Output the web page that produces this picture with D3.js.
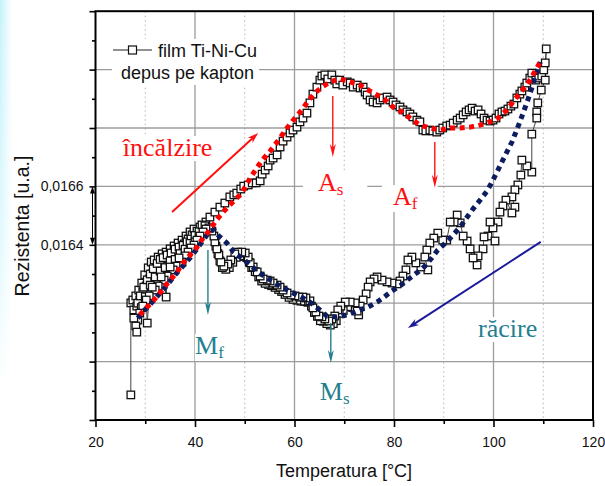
<!DOCTYPE html>
<html><head><meta charset="utf-8">
<script src="https://cdn.jsdelivr.net/npm/d3@7"></script>
<style>body{margin:0;background:#fff;} svg{display:block;}</style>
</head><body><svg id="c" width="605" height="486"></svg>
<script>
// ---------- DATA ----------
const xTicksMajor = [20, 40, 60, 80, 100, 120];
const xTicksMinor = [30, 50, 70, 90, 110];
const yTicksMajor = [0.0158, 0.0160, 0.0162, 0.0164, 0.0166, 0.0168, 0.0170, 0.0172];
const yTicksMinor = [0.0159, 0.0161, 0.0163, 0.0165, 0.0167, 0.0169, 0.0171];
const yTickLabelled = [0.0164, 0.0166];

// measured points [Temperatura °C, Rezistenta u.a.] - heating run
const heatingPoints = [[27.1,0.015886],[27.1,0.016201],[27.5,0.016211],[27.7,0.016177],[28.1,0.016225],[28.3,0.016190],[28.7,0.016245],[28.9,0.016211],[29.3,0.016269],[29.5,0.016238],[29.9,0.016297],[30.2,0.016259],[30.6,0.016321],[30.8,0.016283],[31.2,0.016341],[31.4,0.016300],[31.8,0.016348],[32.2,0.016321],[32.6,0.016358],[33.0,0.016331],[33.4,0.016369],[33.8,0.016341],[34.2,0.016375],[34.6,0.016351],[35.0,0.016386],[35.4,0.016362],[35.8,0.016396],[36.2,0.016375],[36.6,0.016406],[37.0,0.016389],[37.4,0.016416],[37.8,0.016403],[38.2,0.016430],[38.6,0.016420],[39.0,0.016444],[39.4,0.016434],[39.8,0.016454],[40.4,0.016447],[41.0,0.016461],[41.6,0.016458],[42.2,0.016478],[43.0,0.016495],[44.0,0.016512],[45.0,0.016529],[46.0,0.016543],[47.0,0.016564],[47.8,0.016571],[48.4,0.016577],[49.2,0.016591],[49.8,0.016601],[50.7,0.016605],[51.5,0.016612],[52.3,0.016612],[53.1,0.016619],[53.5,0.016642],[54.1,0.016656],[54.7,0.016670],[55.1,0.016690],[55.7,0.016697],[56.5,0.016708],[57.1,0.016735],[57.7,0.016755],[58.5,0.016769],[59.1,0.016783],[59.7,0.016793],[60.5,0.016803],[61.1,0.016821],[61.7,0.016834],[62.5,0.016851],[63.1,0.016886],[63.7,0.016916],[64.5,0.016940],[65.1,0.016964],[65.5,0.016978],[66.1,0.016982],[66.7,0.016968],[67.5,0.016982],[68.1,0.016964],[68.5,0.016951],[69.1,0.016964],[69.7,0.016947],[70.6,0.016958],[71.2,0.016954],[71.8,0.016940],[72.6,0.016947],[73.2,0.016937],[73.8,0.016940],[74.2,0.016923],[74.6,0.016913],[75.2,0.016896],[75.8,0.016889],[76.6,0.016886],[77.2,0.016896],[77.8,0.016903],[78.6,0.016906],[79.2,0.016896],[79.8,0.016889],[80.4,0.016879],[81.2,0.016872],[81.8,0.016862],[82.6,0.016855],[83.2,0.016848],[83.8,0.016838],[84.6,0.016827],[85.2,0.016821],[85.8,0.016793],[86.4,0.016790],[87.2,0.016793],[87.8,0.016790],[88.6,0.016786],[89.2,0.016793],[89.8,0.016800],[90.6,0.016807],[91.3,0.016810],[91.9,0.016817],[92.7,0.016827],[93.3,0.016834],[93.9,0.016845],[94.5,0.016855],[95.1,0.016862],[95.7,0.016868],[96.3,0.016858],[96.9,0.016862],[97.5,0.016848],[98.1,0.016834],[98.7,0.016827],[99.3,0.016824],[99.9,0.016827],[100.5,0.016834],[101.1,0.016848],[101.7,0.016855],[102.3,0.016858],[102.9,0.016865],[103.5,0.016875],[104.1,0.016882],[104.7,0.016903],[105.3,0.016916],[105.7,0.016927],[106.3,0.016940],[106.7,0.016954],[107.3,0.016971],[107.7,0.016988],[108.5,0.016964],[109.1,0.016971],[109.7,0.016978],[110.1,0.016999],[110.4,0.017023],[110.6,0.017071]];

// measured points - cooling run
const coolingPoints = [[110.4,0.016964],[109.6,0.016930],[108.9,0.016886],[108.7,0.016855],[108.7,0.016834],[107.7,0.016779],[107.7,0.016649],[106.7,0.016670],[105.7,0.016690],[105.5,0.016639],[104.9,0.016605],[104.3,0.016588],[103.7,0.016564],[104.3,0.016529],[103.7,0.016509],[102.5,0.016553],[101.9,0.016533],[101.3,0.016512],[100.9,0.016478],[99.9,0.016458],[99.3,0.016478],[98.9,0.016430],[100.3,0.016413],[98.1,0.016427],[97.9,0.016386],[96.9,0.016362],[96.7,0.016331],[95.9,0.016355],[95.3,0.016386],[94.7,0.016413],[93.9,0.016430],[93.3,0.016475],[92.7,0.016502],[92.1,0.016478],[91.3,0.016478],[90.6,0.016416],[89.8,0.016416],[88.8,0.016440],[88.0,0.016423],[87.2,0.016406],[86.6,0.016382],[86.2,0.016358],[86.8,0.016314],[85.4,0.016324],[84.4,0.016338],[83.6,0.016358],[82.8,0.016348],[82.4,0.016314],[81.8,0.016293],[81.2,0.016276],[80.6,0.016266],[79.6,0.016269],[78.6,0.016273],[77.6,0.016279],[76.6,0.016290],[76.0,0.016283],[75.2,0.016273],[74.8,0.016255],[74.4,0.016232],[73.8,0.016211],[73.2,0.016190],[72.6,0.016173],[72.2,0.016201],[71.2,0.016204],[70.2,0.016204],[69.3,0.016190],[68.7,0.016177],[68.1,0.016156],[67.5,0.016146],[66.9,0.016139],[66.1,0.016146],[65.5,0.016153],[64.9,0.016156],[64.3,0.016170],[63.7,0.016184],[63.1,0.016208],[62.3,0.016218],[61.7,0.016221],[60.9,0.016221],[60.1,0.016225],[59.3,0.016228],[58.5,0.016235],[57.7,0.016245],[57.1,0.016255],[56.5,0.016262],[55.7,0.016269],[55.1,0.016276],[54.5,0.016279],[53.7,0.016283],[53.1,0.016293],[52.5,0.016307],[51.7,0.016324],[51.1,0.016338],[50.7,0.016358],[50.1,0.016372],[49.4,0.016375],[48.6,0.016375],[48.0,0.016369],[47.2,0.016348],[46.6,0.016334],[45.8,0.016327],[45.2,0.016341],[44.8,0.016365],[44.4,0.016386],[44.0,0.016410],[43.8,0.016430],[43.4,0.016447],[42.8,0.016458],[42.2,0.016454],[41.6,0.016444],[41.0,0.016430],[40.4,0.016416],[39.8,0.016399],[39.2,0.016389],[38.6,0.016375],[38.0,0.016362],[37.4,0.016341],[36.8,0.016355],[36.2,0.016327],[35.6,0.016314],[35.0,0.016324],[34.4,0.016293],[34.2,0.016221],[33.8,0.016279],[33.2,0.016290],[32.6,0.016259],[32.0,0.016245],[31.4,0.016255],[30.8,0.016225],[30.4,0.016132],[30.2,0.016211],[29.5,0.016190],[28.9,0.016166],[28.5,0.016142],[28.1,0.016122],[27.7,0.016149],[28.3,0.016101]];

// further overlapping points inside the dark (dense) bands
const denseBandPoints = [[28.5,0.016200],[29.0,0.016225],[29.7,0.016255],[30.4,0.016280],[31.0,0.016300],[31.6,0.016318],[32.4,0.016336],[33.0,0.016350],[33.6,0.016356],[34.4,0.016365],[35.2,0.016372],[36.0,0.016385],[36.8,0.016392],[37.6,0.016398],[38.4,0.016410],[39.2,0.016420],[40.0,0.016432],[40.8,0.016445],[41.4,0.016468],[42.0,0.016465],[29.2,0.016185],[30.0,0.016222],[31.0,0.016262],[32.0,0.016290],[33.0,0.016310],[34.0,0.016322],[35.0,0.016345],[36.0,0.016350],[37.0,0.016370],[38.0,0.016385],[39.0,0.016405],[40.0,0.016410],[72.9,0.016160],[71.7,0.016185],[70.7,0.016188],[69.8,0.016175],[69.0,0.016165],[68.4,0.016140],[67.8,0.016130],[67.2,0.016125],[66.5,0.016130],[65.8,0.016138],[65.2,0.016140],[64.6,0.016155],[64.0,0.016168],[63.4,0.016190],[62.7,0.016203],[62.0,0.016206],[61.3,0.016207],[60.5,0.016210],[59.7,0.016213],[58.9,0.016220],[58.1,0.016230],[57.4,0.016240],[56.8,0.016247],[56.1,0.016254],[55.4,0.016260],[54.8,0.016264],[54.1,0.016268],[53.4,0.016276],[52.8,0.016290],[52.1,0.016308],[51.4,0.016322],[50.9,0.016340],[50.4,0.016356],[49.7,0.016360],[49.0,0.016362],[48.3,0.016357],[47.6,0.016340],[46.9,0.016322],[46.2,0.016316],[45.5,0.016322],[45.0,0.016345],[44.6,0.016370],[44.2,0.016395]];

// dotted guide curves
const heatingCurve = [[28.9,0.016160],[30.2,0.016184],[31.4,0.016204],[32.6,0.016228],[33.8,0.016255],[35.0,0.016279],[36.4,0.016307],[37.6,0.016338],[39.0,0.016365],[40.4,0.016392],[41.6,0.016423],[43.0,0.016451],[44.2,0.016482],[45.6,0.016512],[47.4,0.016543],[49.4,0.016577],[51.1,0.016629],[52.3,0.016660],[53.5,0.016690],[55.1,0.016721],[57.1,0.016766],[58.5,0.016800],[60.1,0.016834],[61.5,0.016862],[62.7,0.016892],[64.1,0.016920],[65.5,0.016940],[67.1,0.016958],[69.1,0.016968],[71.2,0.016958],[73.2,0.016947],[74.8,0.016930],[76.6,0.016913],[78.2,0.016896],[79.8,0.016872],[81.6,0.016855],[83.2,0.016834],[85.2,0.016810],[87.2,0.016800],[89.2,0.016793],[91.3,0.016800],[93.3,0.016800],[95.3,0.016803],[97.3,0.016810],[99.3,0.016821],[100.9,0.016834],[102.7,0.016862],[103.9,0.016889],[105.3,0.016920],[106.7,0.016947],[107.7,0.016975],[108.7,0.017005],[109.4,0.017026]];
const coolingCurve = [[28.5,0.016149],[29.9,0.016177],[31.4,0.016204],[33.0,0.016235],[34.4,0.016262],[36.0,0.016297],[37.4,0.016324],[39.0,0.016355],[40.4,0.016386],[41.8,0.016420],[43.0,0.016447],[43.8,0.016451],[44.8,0.016430],[46.4,0.016406],[47.8,0.016375],[49.4,0.016355],[51.1,0.016331],[52.7,0.016307],[54.5,0.016286],[56.1,0.016269],[57.7,0.016252],[59.7,0.016235],[61.7,0.016218],[63.3,0.016201],[65.1,0.016177],[66.5,0.016156],[68.5,0.016153],[70.6,0.016160],[73.2,0.016177],[74.8,0.016187],[76.6,0.016204],[78.0,0.016221],[79.6,0.016242],[81.2,0.016259],[83.2,0.016286],[84.8,0.016307],[86.2,0.016327],[87.6,0.016355],[88.8,0.016382],[90.6,0.016410],[91.9,0.016434],[93.3,0.016461],[94.7,0.016495],[95.9,0.016523],[97.3,0.016553],[98.7,0.016584],[99.7,0.016615],[100.7,0.016649],[101.7,0.016684],[102.7,0.016718],[103.7,0.016752],[104.5,0.016786],[105.3,0.016821],[106.1,0.016858],[106.9,0.016896],[107.7,0.016937],[108.5,0.016982],[109.4,0.017026]];

// ---------- CHART ----------
const svg = d3.select('#c');
const SANS = "'Liberation Sans', Arial, Helvetica, sans-serif";
const SERIF = "'Liberation Serif', 'Times New Roman', serif";
const x = d3.scaleLinear().domain([20, 120]).range([95.5, 593]);
const y = d3.scaleLinear().domain([0.0158, 0.0172]).range([420, 11.2]);

// left cyan glow
const defs = svg.append('defs');
const gv = defs.append('linearGradient').attr('id','gv').attr('x1',0).attr('y1',0).attr('x2',0).attr('y2',1);
gv.append('stop').attr('offset','0%').attr('stop-color','#c4f2fb');
gv.append('stop').attr('offset','45%').attr('stop-color','#def8fd');
gv.append('stop').attr('offset','80%').attr('stop-color','#ffffff');
const gh = defs.append('linearGradient').attr('id','gh').attr('x1',0).attr('y1',0).attr('x2',1).attr('y2',0);
gh.append('stop').attr('offset','0%').attr('stop-color','#fff').attr('stop-opacity',0);
gh.append('stop').attr('offset','100%').attr('stop-color','#fff').attr('stop-opacity',1);
svg.append('rect').attr('x',0).attr('y',0).attr('width',12).attr('height',486).attr('fill','url(#gv)');
svg.append('rect').attr('x',0).attr('y',0).attr('width',12).attr('height',486).attr('fill','url(#gh)');

// grid
const grid = svg.append('g');
grid.selectAll('.vmaj').data(xTicksMajor.filter(d => d > 20 && d < 120)).join('line')
  .attr('x1', d => x(d)).attr('x2', d => x(d)).attr('y1', y(0.0172)).attr('y2', y(0.0158))
  .attr('stroke', '#9c9c9c').attr('stroke-width', 1.3);
grid.selectAll('.vmin').data(xTicksMinor).join('line')
  .attr('x1', d => x(d)).attr('x2', d => x(d)).attr('y1', y(0.0172)).attr('y2', y(0.0158))
  .attr('stroke', '#b4b4b4').attr('stroke-width', 1).attr('stroke-dasharray', '1.5,3');
grid.selectAll('.hmaj').data(yTicksMajor.filter(d => d > 0.01581 && d < 0.01719)).join('line')
  .attr('x1', x(20)).attr('x2', x(120)).attr('y1', d => y(d)).attr('y2', d => y(d))
  .attr('stroke', '#9c9c9c').attr('stroke-width', 1.3);

// label helper (text with white box)
function label(gx, gy, main, sub, color, pad) {
  const g = svg.append('g');
  const r = g.append('rect').attr('fill', '#fff');
  const t = g.append('text').attr('x', gx).attr('y', gy).attr('fill', color)
    .attr('font-family', SERIF).attr('font-size', 26).text(main);
  if (sub) t.append('tspan').attr('font-size', 17).attr('dy', 4).text(sub);
  const b = t.node().getBBox();
  r.attr('x', b.x - pad[0]).attr('y', b.y + 3).attr('width', b.width + pad[0] + pad[1]).attr('height', b.height - 4);
  return g;
}
function arrow(x1, y1, x2, y2, color, w, hl, hw) {
  const a = Math.atan2(y2 - y1, x2 - x1), c = Math.cos(a), s = Math.sin(a);
  const bx = x2 - hl * c, by = y2 - hl * s;
  svg.append('line').attr('x1', x1).attr('y1', y1).attr('x2', x2 - hl * 0.6 * c).attr('y2', y2 - hl * 0.6 * s)
    .attr('stroke', color).attr('stroke-width', w);
  svg.append('path').attr('d', `M${x2},${y2}L${bx - hw / 2 * s},${by + hw / 2 * c}L${x2 - hl*0.7*c},${y2 - hl*0.7*s}L${bx + hw / 2 * s},${by - hw / 2 * c}Z`)
    .attr('fill', color);
}

// legend background
const leg = svg.append('g');
leg.append('rect').attr('x', 112).attr('y', 39).attr('width', 147).attr('height', 46).attr('fill', '#fff');

// annotation labels (white boxes go under data)
const RED = '#ff1010', TEAL = '#237f8f', NAVY = '#1a1a9a';
label(x(25.5), y(0.016704), 'încălzire', null, RED, [1, 1]);
label(x(64.7), y(0.016584), 'A', 's', RED, [15, 24]);
label(x(79.8), y(0.016536), 'A', 'f', RED, [11, 20]);
label(x(40.0), y(0.016026), 'M', 'f', TEAL, [0, 0]);
label(x(65.1), y(0.015869), 'M', 's', TEAL, [0, 0]);
label(x(96.9), y(0.016084), 'răcire', null, TEAL, [1, 1]);

// data line + squares
const allPts = heatingPoints.concat(coolingPoints);
const ln = d3.line().x(d => x(d[0])).y(d => y(d[1]));
svg.append('path').datum(allPts).attr('d', ln).attr('fill', 'none').attr('stroke', '#444').attr('stroke-width', 1);
const S = 7.5;
svg.append('g').selectAll('rect').data(heatingPoints.concat(denseBandPoints, coolingPoints)).join('rect')
  .attr('x', d => x(d[0]) - S / 2).attr('y', d => y(d[1]) - S / 2).attr('width', S).attr('height', S)
  .attr('fill', '#fff').attr('stroke', '#111').attr('stroke-width', 1.3);

// dotted curves
svg.append('path').datum(coolingCurve).attr('d', ln).attr('fill', 'none')
  .attr('stroke', '#0c1c5e').attr('stroke-width', 5).attr('stroke-dasharray', '5,4.5');
svg.append('path').datum(heatingCurve).attr('d', ln).attr('fill', 'none')
  .attr('stroke', '#ff0000').attr('stroke-width', 5).attr('stroke-dasharray', '5,4.5');

// arrows
arrow(x(35.4), y(0.016512), x(52.7), y(0.016783), RED, 2, 11, 7);
arrow(x(67.7), y(0.016910), x(67.7), y(0.016701), RED, 1.4, 13, 6);
arrow(x(88.2), y(0.016752), x(88.2), y(0.016595), RED, 1.4, 13, 6);
arrow(x(42.6), y(0.016382), x(42.6), y(0.016160), TEAL, 1.4, 13, 6);
arrow(x(67.3), y(0.016132), x(67.3), y(0.015995), TEAL, 1.4, 13, 6);
arrow(x(109.5), y(0.016410), x(82.8), y(0.016115), NAVY, 2, 11, 7);

// frame
svg.append('rect').attr('x', x(20)).attr('y', y(0.0172)).attr('width', x(120) - x(20)).attr('height', y(0.0158) - y(0.0172))
  .attr('fill', 'none').attr('stroke', '#000').attr('stroke-width', 2);

// axes
const fmt = d => yTickLabelled.some(v => Math.abs(v - d) < 1e-9) ? d.toFixed(4).replace('.', ',') : '';
const ax = svg.append('g').attr('transform', `translate(0,${y(0.0158)})`)
  .call(d3.axisBottom(x).tickValues(xTicksMajor).tickSize(7).tickPadding(10));
const axm = svg.append('g').attr('transform', `translate(0,${y(0.0158)})`)
  .call(d3.axisBottom(x).tickValues(xTicksMinor).tickSize(4).tickFormat(''));
const ay = svg.append('g').attr('transform', `translate(${x(20)},0)`)
  .call(d3.axisLeft(y).tickValues(yTicksMajor).tickSize(6).tickPadding(6).tickFormat(fmt));
const aym = svg.append('g').attr('transform', `translate(${x(20)},0)`)
  .call(d3.axisLeft(y).tickValues(yTicksMinor).tickSize(3.5).tickFormat(''));
[ax, axm, ay, aym].forEach(g => {
  g.select('.domain').remove();
  g.selectAll('line').attr('stroke', '#000').attr('stroke-width', 1.6);
  g.selectAll('text').attr('font-family', SANS).attr('font-size', 14).attr('fill', '#111');
});

// scale marker double arrow between labelled ticks
(function () {
  const xx = x(20) - 3, ya = y(0.0166), yb = y(0.0164);
  svg.append('line').attr('x1', xx).attr('x2', xx).attr('y1', ya + 4).attr('y2', yb - 4).attr('stroke', '#000').attr('stroke-width', 1);
  svg.append('path').attr('d', `M${xx},${ya}L${xx - 2.5},${ya + 7}L${xx + 2.5},${ya + 7}Z`).attr('fill', '#000');
  svg.append('path').attr('d', `M${xx},${yb}L${xx - 2.5},${yb - 7}L${xx + 2.5},${yb - 7}Z`).attr('fill', '#000');
})();

// axis titles
svg.append('text').attr('x', 344).attr('y', 477).attr('text-anchor', 'middle')
  .attr('font-family', SANS).attr('font-size', 18).attr('fill', '#111').text('Temperatura [°C]');
svg.append('text').attr('transform', 'translate(29,226) rotate(-90)').attr('text-anchor', 'middle')
  .attr('font-family', SANS).attr('font-size', 19.5).attr('fill', '#111').text('Rezistenta [u.a.]');

// legend
leg.append('line').attr('x1', 113).attr('x2', 152).attr('y1', 50).attr('y2', 50).attr('stroke', '#222').attr('stroke-width', 1.2);
leg.append('rect').attr('x', 128.5).attr('y', 46).attr('width', 8).attr('height', 8).attr('fill', '#fff').attr('stroke', '#111').attr('stroke-width', 1.2);
leg.append('text').attr('x', 158).attr('y', 57).attr('font-family', SANS).attr('font-size', 18).attr('fill', '#111').text('film Ti-Ni-Cu');
leg.append('text').attr('x', 121).attr('y', 79).attr('font-family', SANS).attr('font-size', 18).attr('fill', '#111').text('depus pe kapton');
</script></body></html>
